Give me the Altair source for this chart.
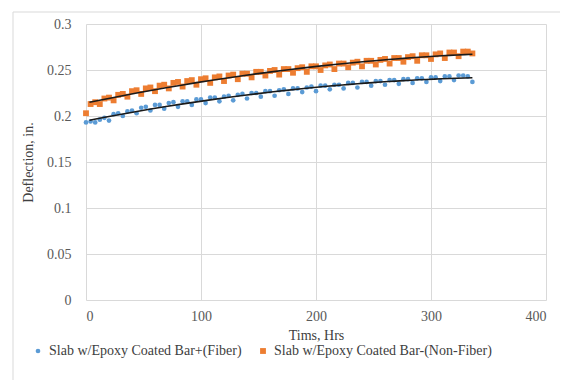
import altair as alt
import pandas as pd

hours = list(range(0, 337, 4))

fiber = [
    0.193, 0.194, 0.193, 0.196, 0.198, 0.195, 0.202, 0.203, 0.200, 0.205,
    0.206, 0.203, 0.209, 0.210, 0.206, 0.212, 0.212, 0.208, 0.214, 0.215,
    0.210, 0.216, 0.216, 0.212, 0.218, 0.218, 0.214, 0.220, 0.220, 0.216,
    0.221, 0.222, 0.217, 0.223, 0.224, 0.219, 0.225, 0.225, 0.221, 0.227,
    0.227, 0.222, 0.228, 0.229, 0.224, 0.230, 0.230, 0.226, 0.231, 0.232,
    0.227, 0.233, 0.233, 0.229, 0.234, 0.234, 0.230, 0.236, 0.236, 0.231,
    0.237, 0.237, 0.233, 0.238, 0.238, 0.234, 0.239, 0.239, 0.235, 0.240,
    0.240, 0.236, 0.241, 0.241, 0.237, 0.242, 0.242, 0.238, 0.243, 0.243,
    0.239, 0.244, 0.244, 0.243, 0.237,
]

nonfiber = [
    0.203, 0.213, 0.215, 0.213, 0.219, 0.220, 0.217, 0.223, 0.224, 0.221,
    0.227, 0.228, 0.224, 0.230, 0.231, 0.227, 0.233, 0.234, 0.230, 0.236,
    0.237, 0.232, 0.238, 0.239, 0.234, 0.240, 0.241, 0.236, 0.242, 0.243,
    0.238, 0.244, 0.245, 0.240, 0.246, 0.246, 0.242, 0.248, 0.248, 0.244,
    0.249, 0.250, 0.245, 0.251, 0.251, 0.247, 0.252, 0.253, 0.248, 0.254,
    0.254, 0.250, 0.255, 0.256, 0.251, 0.257, 0.257, 0.253, 0.258, 0.259,
    0.254, 0.260, 0.260, 0.256, 0.261, 0.262, 0.257, 0.263, 0.263, 0.259,
    0.264, 0.265, 0.260, 0.266, 0.266, 0.262, 0.267, 0.268, 0.263, 0.269,
    0.269, 0.265, 0.270, 0.270, 0.268,
]

series_names = ["Slab w/Epoxy Coated Bar+(Fiber)", "Slab w/Epoxy Coated Bar-(Non-Fiber)"]
series_colors = ["#5B9BD5", "#ED7D31"]
series_shapes = ["circle", "square"]
x_ticks = [0, 100, 200, 300, 400]
y_ticks = [0, 0.05, 0.1, 0.15, 0.2, 0.25, 0.3]

n = min(len(hours), len(fiber), len(nonfiber))
df = pd.concat([
    pd.DataFrame({"hrs": hours[:n], "defl": fiber[:n], "series": series_names[0]}),
    pd.DataFrame({"hrs": hours[:n], "defl": nonfiber[:n], "series": series_names[1]}),
], ignore_index=True)

FONT = "'Times New Roman', 'Liberation Serif', serif"

x_enc = alt.X(
    "hrs:Q",
    scale=alt.Scale(domain=[0, 400], nice=False),
    axis=alt.Axis(
        values=x_ticks, title="Tims, Hrs", ticks=False, domain=False,
        labelPadding=9, titleY=35, titleBaseline="middle",
        grid=True, labelFont=FONT, titleFont=FONT,
    ),
)
y_enc = alt.Y(
    "defl:Q",
    scale=alt.Scale(domain=[0, 0.3], nice=False),
    axis=alt.Axis(
        values=y_ticks, format="~g", title="Deflection, in.", ticks=False,
        domain=False, labelPadding=15, titleX=-58, titleY=138,
        titleAngle=-90, titleAlign="center", titleBaseline="middle",
        grid=True, labelFont=FONT, titleFont=FONT,
    ),
)

legend = alt.Legend(
    title=None, orient="none", legendX=-55, legendY=320,
    direction="horizontal", symbolSize=14, columnPadding=14,
    labelFont=FONT, labelFontSize=14, labelColor="#404040",
    labelLimit=400, symbolStrokeWidth=0, labelOffset=4,
)

base = alt.Chart(df)

points = base.mark_point(filled=True, opacity=1).encode(
    x=x_enc,
    y=y_enc,
    color=alt.Color(
        "series:N",
        scale=alt.Scale(domain=series_names, range=series_colors),
        legend=legend,
    ),
    shape=alt.Shape(
        "series:N",
        scale=alt.Scale(domain=series_names, range=series_shapes),
        legend=legend,
    ),
    size=alt.Size(
        "series:N",
        scale=alt.Scale(domain=series_names, range=[22, 34]),
        legend=None,
    ),
)

trend = base.transform_regression(
    "hrs", "defl", groupby=["series"], method="poly", order=2, extent=[3, 336]
).mark_line(color="#1a1a1a", strokeWidth=1.6).encode(
    x="hrs:Q", y="defl:Q", detail="series:N"
)

frame_left = alt.Chart(pd.DataFrame({"k": [0]})).mark_rule(
    color="#D9D9D9", strokeWidth=1
).encode(x=alt.value(-73), y=alt.value(-12), y2=alt.value(372))
frame_top = alt.Chart(pd.DataFrame({"k": [0]})).mark_rule(
    color="#D9D9D9", strokeWidth=1
).encode(x=alt.value(-73), x2=alt.value(480), y=alt.value(-12))

chart = alt.layer(frame_left, frame_top, points, trend).properties(
    width=460,
    height=276,
    autosize=alt.AutoSizeParams(type="none"),
    padding={"left": 78, "top": 16, "right": 14, "bottom": 80},
    background="white",
).configure_view(stroke=None).configure_axis(
    labelFont=FONT, labelFontSize=14, labelColor="#595959",
    titleFont=FONT, titleFontSize=14, titleColor="#404040", titleFontWeight="normal",
    gridColor="#D9D9D9", gridWidth=1,
).configure_legend(labelFont=FONT)

chart.save("out.html", embed_options={"renderer": "svg", "actions": False})
